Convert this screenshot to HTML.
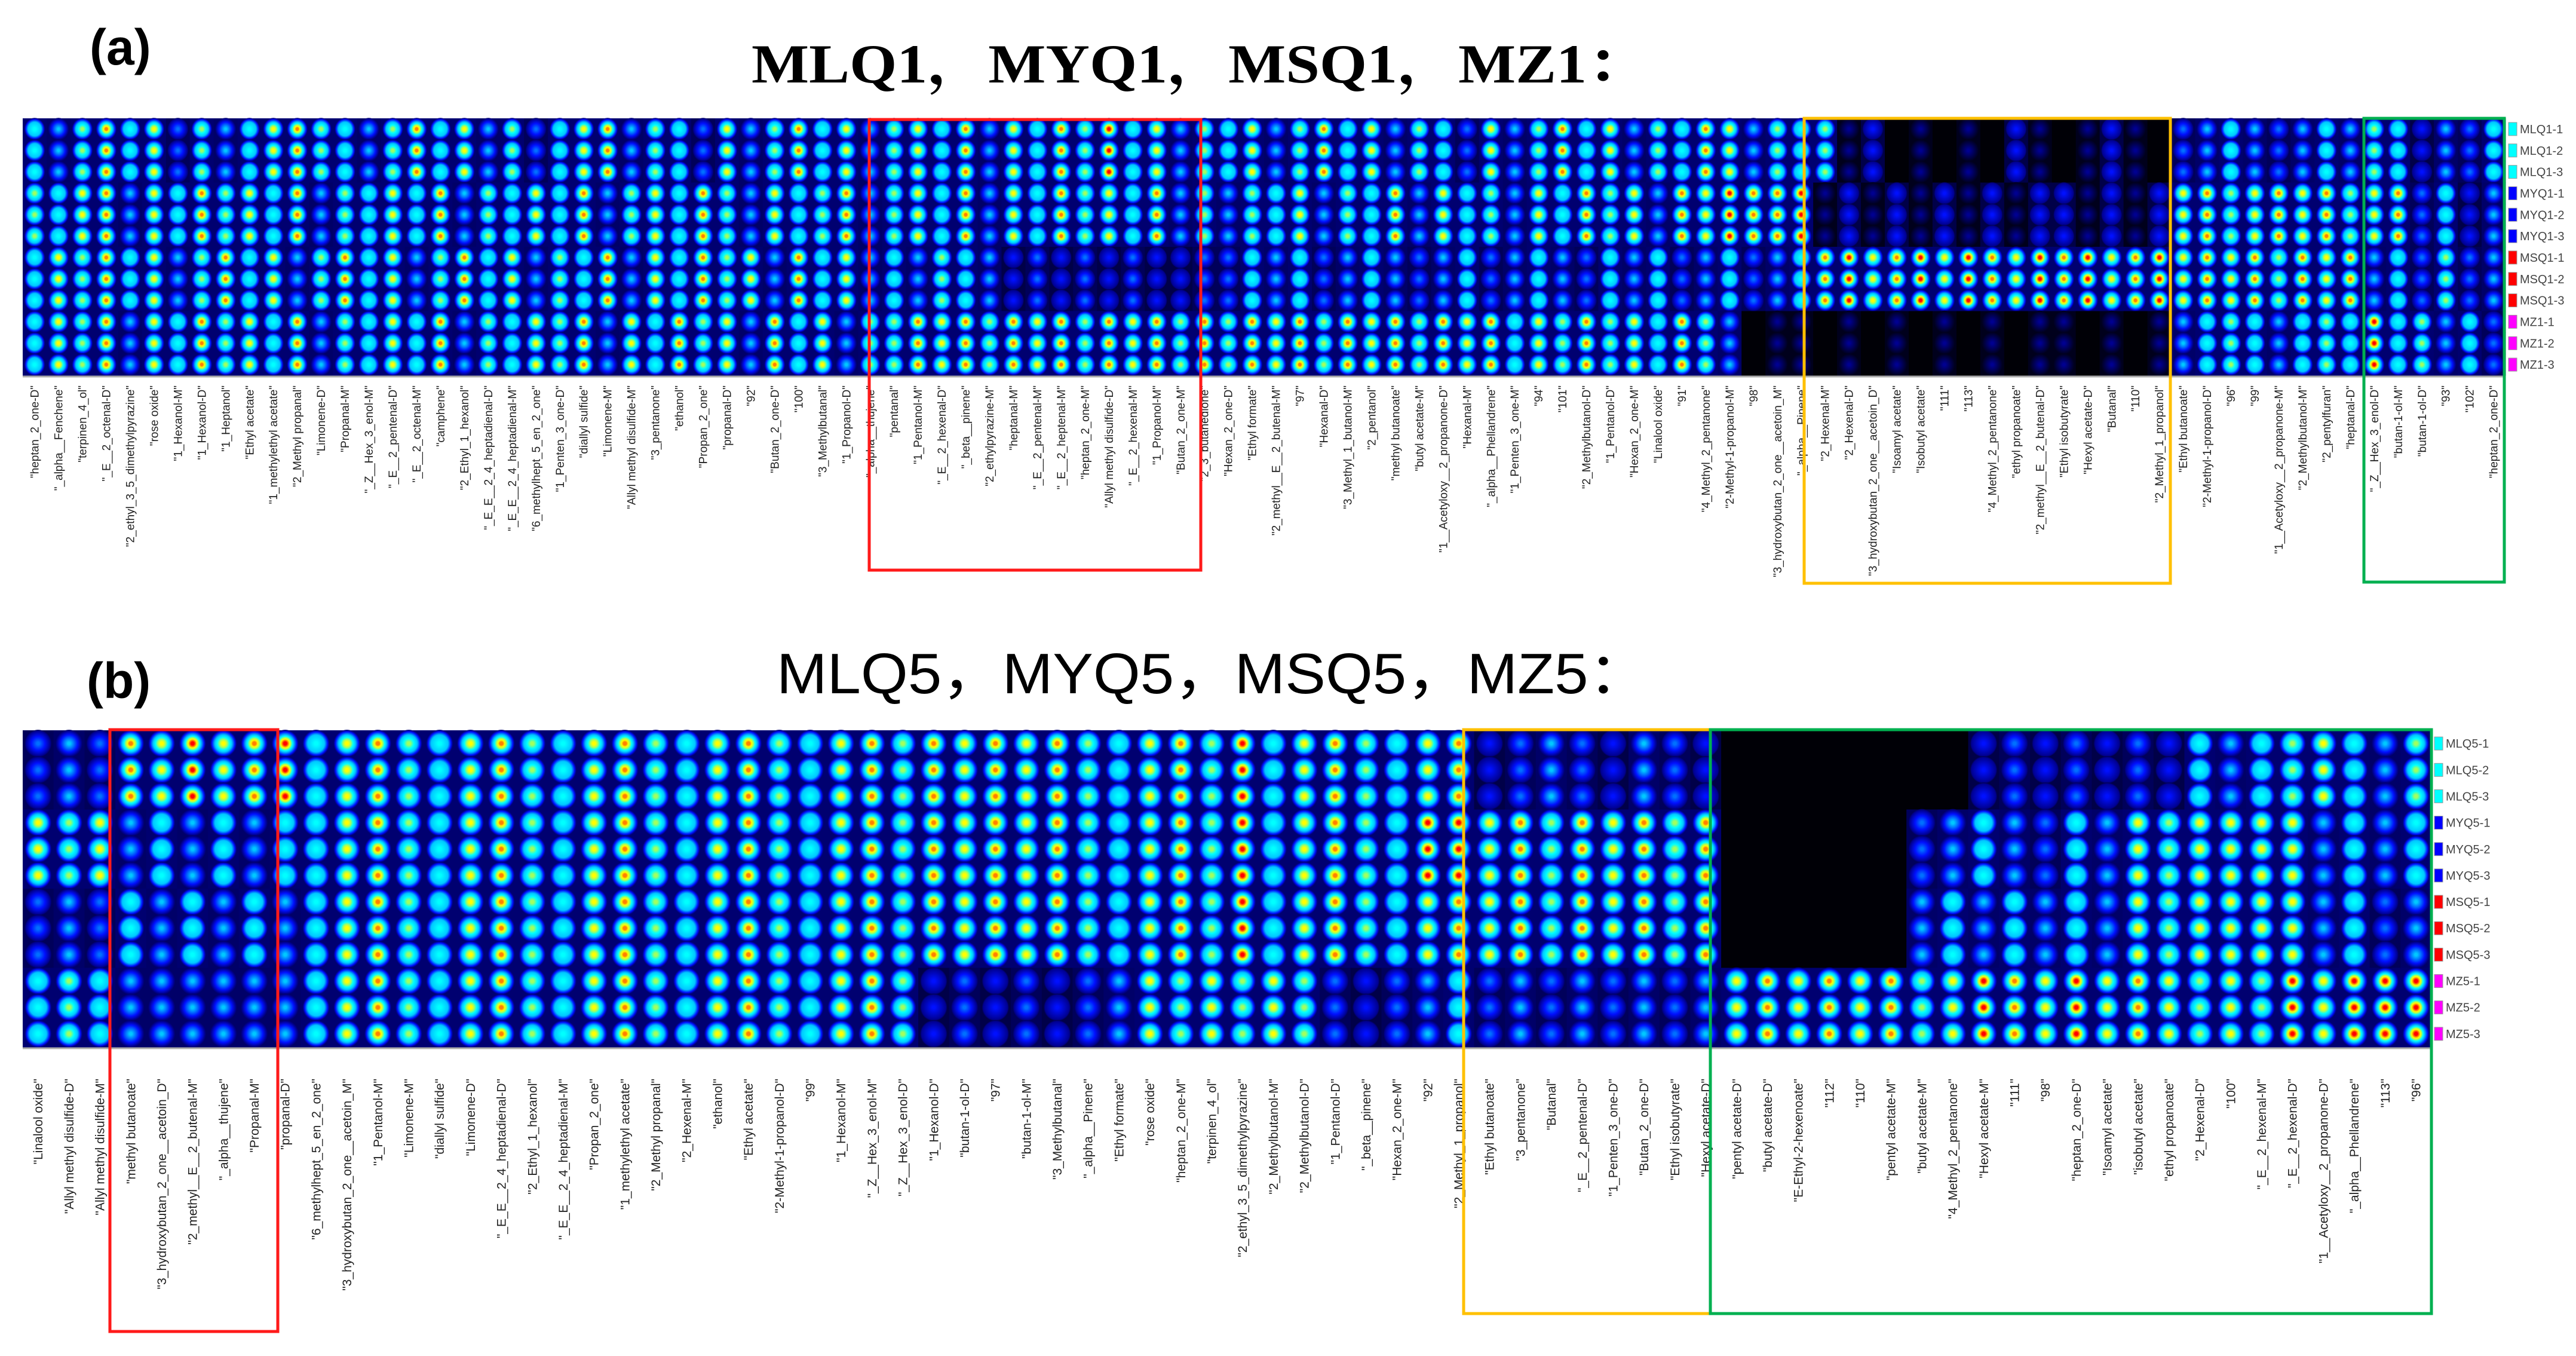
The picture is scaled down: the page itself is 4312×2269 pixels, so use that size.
<!DOCTYPE html>
<html><head><meta charset="utf-8">
<style>
html,body{margin:0;padding:0;background:#fff;}
svg{display:block;}
</style></head>
<body>
<svg id="fig" width="4312" height="2269" viewBox="0 0 4312 2269" xmlns="http://www.w3.org/2000/svg">
<defs id="defs"></defs>
<rect x="0" y="0" width="4312" height="2269" fill="#fff"/>
<text x="150" y="108" font-family="Liberation Sans, sans-serif" font-weight="bold" font-size="84" fill="#000">(a)</text>
<text x="1258" y="138" font-family="'Liberation Serif','Noto Serif CJK SC',serif" font-weight="bold" font-size="92" fill="#000" textLength="1500" lengthAdjust="spacingAndGlyphs">MLQ1，MYQ1，MSQ1，MZ1：</text>
<text x="145" y="1168" font-family="Liberation Sans, sans-serif" font-weight="bold" font-size="84" fill="#000">(b)</text>
<text x="1300" y="1160" font-family="'Liberation Sans','Noto Sans CJK SC',sans-serif" font-size="96" fill="#000" textLength="1460" lengthAdjust="spacingAndGlyphs">MLQ5，MYQ5，MSQ5，MZ5：</text>
<g id="panelA"></g>
<g id="panelB"></g>
</svg>
<script>
// ---------- data ----------
const groupsA = ["MLQ1","MYQ1","MSQ1","MZ1"];
const groupsB = ["MLQ5","MYQ5","MSQ5","MZ5"];
const levelsA_MLQ1 = "546857364578654685746357846537468574"+"67584758695746"+"5746857465374685746587465"+"612010102101210"+"34543454"+"652435";
const levelsA_MYQ1 = "657847586758465758465758467586475684"+"67584758675846"+"4657465847564758674879889"+"121212121221212"+"78678786"+"783524";
const levelsA_MSQ1 = "576857468574685746857465847586748574"+"54654232323223"+"3545345434534543545345345"+"897897987989789"+"78786878"+"453634";
const levelsA_MZ1  = "576847586758465758465768475867485746"+"68786878687868"+"6878687868785768675864011"+"010101010110101"+"45654565"+"956453";
const levelsB_MLQ5 = "343"+"879789"+"57865786578657865786878786578695786578"+"23432432"+"00000000232323254567546";
const levelsB_MYQ5 = "767"+"454545"+"57865786578657865786878786578695786599"+"78687868"+"00000034543547677774545";
const levelsB_MSQ5 = "343"+"545454"+"57865786578657865786878786578695786578"+"78687868"+"00000045454547677774534";
const levelsB_MZ5  = "565"+"444444"+"57865786578657865786232323476767632345"+"34343434"+"78787867987978767697999";
const labelsA = ["heptan_2_one-D","_alpha__Fenchene","terpinen_4_ol","_E__2_octenal-D","2_ethyl_3_5_dimethylpyrazine","rose oxide","1_Hexanol-M","1_Hexanol-D","1_Heptanol","Ethyl acetate","1_methylethyl acetate","2_Methyl propanal","Limonene-D","Propanal-M","_Z__Hex_3_enol-M","_E__2_pentenal-D","_E__2_octenal-M","camphene","2_Ethyl_1_hexanol","_E_E__2_4_heptadienal-D","_E_E__2_4_heptadienal-M","6_methylhept_5_en_2_one","1_Penten_3_one-D","diallyl sulfide","Limonene-M","Allyl methyl disulfide-M","3_pentanone","ethanol","Propan_2_one","propanal-D","92","Butan_2_one-D","100","3_Methylbutanal","1_Propanol-D","_alpha__thujene","pentanal","1_Pentanol-M","_E__2_hexenal-D","_beta__pinene","2_ethylpyrazine-M","heptanal-M","_E__2_pentenal-M","_E__2_heptenal-M","heptan_2_one-M","Allyl methyl disulfide-D","_E__2_hexenal-M","1_Propanol-M","Butan_2_one-M","2_3_butanedione","Hexan_2_one-D","Ethyl formate","2_methyl__E__2_butenal-M","97","Hexanal-D","3_Methyl_1_butanol-M","2_pentanol","methyl butanoate","butyl acetate-M","1__Acetyloxy__2_propanone-D","Hexanal-M","_alpha__Phellandrene","1_Penten_3_one-M","94","101","2_Methylbutanol-D","1_Pentanol-D","Hexan_2_one-M","Linalool oxide","91","4_Methyl_2_pentanone","2-Methyl-1-propanol-M","98","3_hydroxybutan_2_one__acetoin_M","_alpha__Pinene","2_Hexenal-M","2_Hexenal-D","3_hydroxybutan_2_one__acetoin_D","Isoamyl acetate","Isobutyl acetate","111","113","4_Methyl_2_pentanone","ethyl propanoate","2_methyl__E__2_butenal-D","Ethyl isobutyrate","Hexyl acetate-D","Butanal","110","2_Methyl_1_propanol","Ethyl butanoate","2-Methyl-1-propanol-D","96","99","1__Acetyloxy__2_propanone-M","2_Methylbutanol-M","2_pentylfuran","heptanal-D","_Z__Hex_3_enol-D","butan-1-ol-M","butan-1-ol-D","93","102"];
const labelsB = ["Linalool oxide","Allyl methyl disulfide-D","Allyl methyl disulfide-M","methyl butanoate","3_hydroxybutan_2_one__acetoin_D","2_methyl__E__2_butenal-M","_alpha__thujene","Propanal-M","propanal-D","6_methylhept_5_en_2_one","3_hydroxybutan_2_one__acetoin_M","1_Pentanol-M","Limonene-M","diallyl sulfide","Limonene-D","_E_E__2_4_heptadienal-D","2_Ethyl_1_hexanol","_E_E__2_4_heptadienal-M","Propan_2_one","1_methylethyl acetate","2_Methyl propanal","2_Hexenal-M","ethanol","Ethyl acetate","2-Methyl-1-propanol-D","99","1_Hexanol-M","_Z__Hex_3_enol-M","_Z__Hex_3_enol-D","1_Hexanol-D","butan-1-ol-D","97","butan-1-ol-M","3_Methylbutanal","_alpha__Pinene","Ethyl formate","rose oxide","heptan_2_one-M","terpinen_4_ol","2_ethyl_3_5_dimethylpyrazine","2_Methylbutanol-M","2_Methylbutanol-D","1_Pentanol-D","_beta__pinene","Hexan_2_one-M","92","2_Methyl_1_propanol","Ethyl butanoate","3_pentanone","Butanal","_E__2_pentenal-D","1_Penten_3_one-D","Butan_2_one-D","Ethyl isobutyrate","Hexyl acetate-D","pentyl acetate-D","butyl acetate-D","E-Ethyl-2-hexenoate","112","110","pentyl acetate-M","butyl acetate-M","4_Methyl_2_pentanone","Hexyl acetate-M","111","98","heptan_2_one-D","Isoamyl acetate","isobutyl acetate","ethyl propanoate","2_Hexenal-D","100","_E__2_hexenal-M","_E__2_hexenal-D","1__Acetyloxy__2_propanone-D","_alpha__Phellandrene","113","96"];
const legendColors = {MLQ:"#00ffff",MYQ:"#0000ff",MSQ:"#ff0000",MZ:"#ff00ff"};

// ---------- rendering ----------
const NS = "http://www.w3.org/2000/svg";
const JET = ["#000008","#000090","#0010ff","#0070ff","#00c8ff","#00ffff","#a0ff60","#ffff00","#ff8000","#ff0000"];
const BG = ["#000006","#00001c","#000048","#00005a","#000068","#000070","#000070","#000070","#000070","#000070"];
const defs = document.getElementById('defs');
for (let L = 0; L < 10; L++) {
  const g = document.createElementNS(NS, 'radialGradient');
  g.setAttribute('id', 'g' + L);
  for (let k = L; k >= 1; k--) {
    let off;
    if (L <= 4) off = 0.1 + ((L - k) / Math.max(L - 1, 1)) * 0.8;
    else if (k >= 4) off = 0.12 + ((L - k) / (L - 4)) * 0.5;
    else off = 0.62 + ((4 - k) / 3) * 0.33;
    const st = document.createElementNS(NS, 'stop');
    st.setAttribute('offset', off.toFixed(3));
    st.setAttribute('stop-color', JET[k]);
    g.appendChild(st);
  }
  const end = document.createElementNS(NS, 'stop');
  end.setAttribute('offset', '1');
  end.setAttribute('stop-color', BG[L]);
  g.appendChild(end);
  defs.appendChild(g);
}
function mk(tag, attrs, parent) {
  const e = document.createElementNS(NS, tag);
  for (const k in attrs) e.setAttribute(k, attrs[k]);
  parent.appendChild(e);
  return e;
}
function drawPanel(gid, x0, y0, w, h, groups, series, labels, labelTop, fs, boxes, tag) {
  const root = document.getElementById(gid);
  const nCol = series[0].length;
  const cw = w / nCol, ch = h / 12;
  const xs = i => x0 + i * cw;
  const ys = r => y0 + r * ch;
  mk('rect', {x: x0, y: y0, width: w, height: h, fill: '#000030'}, root);
  for (let gi = 0; gi < 4; gi++) {
    for (let rr = 0; rr < 3; rr++) {
      const r = gi * 3 + rr;
      for (let i = 0; i < nCol; i++) {
        const L = parseInt(series[gi][i] || '2', 10);
        const cell = mk('rect', {x: xs(i).toFixed(1), y: ys(r).toFixed(1), width: (cw + 0.6).toFixed(1), height: (ch + 0.6).toFixed(1), fill: BG[L]}, root);
        
        
        if (L >= 1) {
          const bl = mk('ellipse', {cx: (xs(i) + cw / 2).toFixed(1), cy: (ys(r) + ch / 2).toFixed(1), rx: (cw * 0.44).toFixed(1), ry: (ch * 0.52).toFixed(1), fill: 'url(#g' + L + ')'}, root);
          
          
        }
      }
      const key = groups[gi].replace(/\d+$/, '');
      const ly = ys(r) + ch / 2;
      const sw = mk('rect', {x: x0 + w + 5, y: (ly - 11).toFixed(1), width: 14, height: 22, fill: legendColors[key], stroke: '#999', 'stroke-width': 1}, root);
      
      
      const lt = mk('text', {x: x0 + w + 24, y: (ly + 7).toFixed(1), 'font-family': 'Liberation Sans, sans-serif', 'font-size': 20, fill: '#444'}, root);
      lt.textContent = groups[gi] + '-' + (rr + 1);
      
      
    }
  }
  mk('line', {x1: x0, y1: y0 + h + 2, x2: x0 + w, y2: y0 + h + 2, stroke: '#aaa', 'stroke-width': 3}, root);
  for (let i = 0; i < nCol; i++) {
    const tx = xs(i) + cw / 2 + fs * 0.35;
    const t = mk('text', {x: tx.toFixed(1), y: labelTop, transform: 'rotate(-90 ' + tx.toFixed(1) + ' ' + labelTop + ')', 'text-anchor': 'end', 'font-family': 'Liberation Sans, sans-serif', 'font-size': fs, fill: '#222'}, root);
    t.textContent = '"' + labels[i % labels.length] + '"';
    
    
  }
  boxes.forEach(b => {
    const bx = mk('rect', {x: b[0], y: b[1], width: b[2] - b[0], height: b[3] - b[1], fill: 'none', stroke: b[4], 'stroke-width': 5}, root);
    
    
  });
}
drawPanel('panelA', 38, 198, 4156, 430, groupsA, [levelsA_MLQ1, levelsA_MYQ1, levelsA_MSQ1, levelsA_MZ1], labelsA, 645, 19,
  [[1455, 200, 2010, 954, '#ff1a1a', 'red-highlight-box-a'], [3020, 198, 3633, 976, '#ffc000', 'orange-highlight-box-a'], [3957, 198, 4192, 974, '#00b050', 'green-highlight-box-a']], 'a');
drawPanel('panelB', 38, 1222, 4032, 530, groupsB, [levelsB_MLQ5, levelsB_MYQ5, levelsB_MSQ5, levelsB_MZ5], labelsB, 1805, 21,
  [[184, 1221, 465, 2228, '#ff1a1a', 'red-highlight-box-b'], [2450, 1221, 2863, 2198, '#ffc000', 'orange-highlight-box-b'], [2863, 1221, 4070, 2198, '#00b050', 'green-highlight-box-b']], 'b');
</script>
</body></html>
